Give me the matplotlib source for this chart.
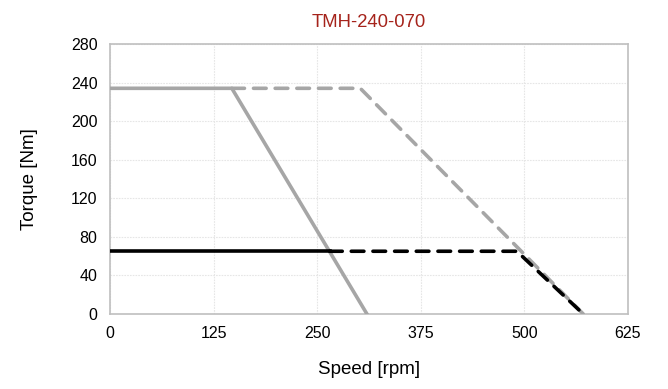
import matplotlib
matplotlib.use("Agg")
import matplotlib.pyplot as plt

plt.rcParams['font.family'] = ['Liberation Sans', 'DejaVu Sans']

# Data
gray_solid_x = [0, 147, 310]
gray_solid_y = [234, 234, 0]
gray_dash_x = [147, 302, 571]
gray_dash_y = [234, 234, 0]
black_solid_x = [0, 265]
black_solid_y = [65, 65]
black_dash_x = [265, 491, 571]
black_dash_y = [65, 65, 0]
x_ticks = [0, 125, 250, 375, 500, 625]
y_ticks = [0, 40, 80, 120, 160, 200, 240, 280]

fig = plt.figure(figsize=(6.68, 3.89), dpi=100)
ax = fig.add_axes([0.1647, 0.193, 0.7753, 0.694])

gray = '#A6A6A6'
ax.plot(gray_dash_x, gray_dash_y, color=gray, lw=2.6, ls=(0, (3.5, 2.5)), dash_capstyle='round', zorder=3)
ax.plot(gray_solid_x, gray_solid_y, color=gray, lw=2.6, zorder=3)
ax.plot(black_solid_x, black_solid_y, color='black', lw=2.6, zorder=4)
ax.plot(black_dash_x, black_dash_y, color='black', lw=2.6, ls=(0, (3.5, 2.5)), dash_capstyle='round', zorder=4)

ax.set_xlim(0, 625)
ax.set_ylim(0, 280)
ax.set_xticks(x_ticks)
ax.set_yticks(y_ticks)
ax.tick_params(length=0, labelsize=11.5, pad=9)
ax.grid(True, color='#E6E6E6', lw=0.8, ls=(0, (1.5, 1)))
ax.set_axisbelow(True)
for s in ax.spines.values():
    s.set_color('#BFBFBF')
    s.set_linewidth(1.2)

ax.set_xlabel('Speed [rpm]', fontsize=13.5, labelpad=14)
ax.set_ylabel('Torque [Nm]', fontsize=13.5, labelpad=24)
ax.set_title('TMH-240-070', color='#A5231B', fontsize=13.3, pad=12)

fig.savefig('out.png', dpi=100)
